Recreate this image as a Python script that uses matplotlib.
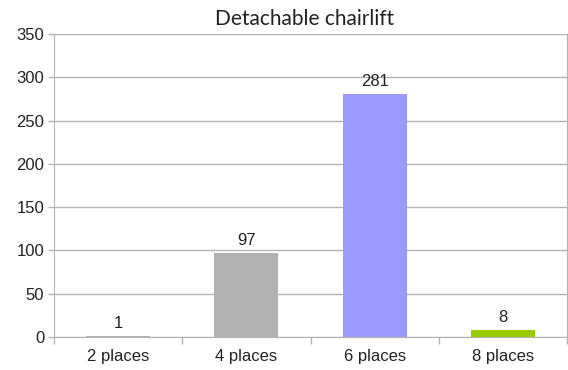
import matplotlib
matplotlib.use('Agg')
import matplotlib.pyplot as plt
import numpy as np

categories = ['2 places', '4 places', '6 places', '8 places']
values = [1, 97, 281, 8]
colors = ['#b3b3b3', '#b2b2b2', '#9999ff', '#99cc00']
yticks = [0, 50, 100, 150, 200, 250, 300, 350]

plt.rcParams['font.family'] = ['Liberation Sans', 'DejaVu Sans']

fig = plt.figure(figsize=(5.68, 3.70), dpi=100)
ax = fig.add_axes([54 / 568, 1 - 337 / 370, 513 / 568, 303 / 370])

x = np.arange(len(categories))
ax.bar(x, values, width=0.5, color=colors, zorder=2)
for xi, v in zip(x, values):
    ax.text(xi, v + 6, str(v), ha='center', va='bottom', fontsize=12, color='#222222')

ax.set_xlim(-0.5, len(categories) - 0.5)
ax.set_ylim(0, 350)
ax.set_yticks(yticks)
ax.set_yticklabels([str(t) for t in yticks], fontsize=12, color='#222222')

# category labels centred, tick marks on the boundaries between categories
ax.set_xticks(x)
ax.set_xticklabels(categories, fontsize=12, color='#222222')
ax.tick_params(axis='x', length=0, pad=9)
ax.set_xticks(np.arange(-0.5, len(categories)), minor=True)
ax.tick_params(axis='x', which='minor', length=5, color='#b3b3b3', width=1)
ax.tick_params(axis='y', length=4, color='#b3b3b3', width=1, pad=3)

ax.grid(axis='y', color='#b3b3b3', linewidth=1, zorder=0)
for side in ['left', 'bottom', 'right']:
    ax.spines[side].set_color('#b3b3b3')
ax.spines['top'].set_visible(False)

fig.text(0.537, 0.948, 'Detachable chairlift', ha='center', va='center',
         fontsize=15, family=['Lato', 'DejaVu Sans'], color='#222222')

fig.savefig('out.png', dpi=100)
